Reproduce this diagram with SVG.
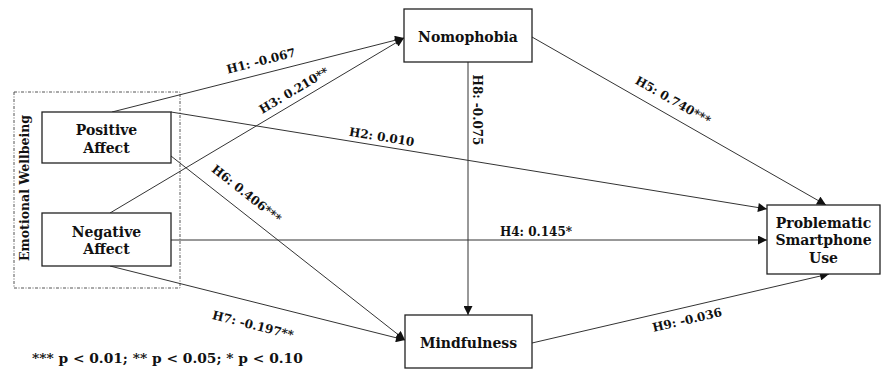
<svg xmlns="http://www.w3.org/2000/svg" width="885" height="369" viewBox="0 0 885 369">
<style>
.box{fill:#fff;stroke:#222;stroke-width:1.3}
.nt{font-family:"DejaVu Serif","Liberation Serif",serif;font-weight:bold;font-size:14px;fill:#111;text-anchor:middle}
.lb{font-family:"DejaVu Serif","Liberation Serif",serif;font-weight:bold;font-size:12px;fill:#111;text-anchor:middle}
.ln{stroke:#333;stroke-width:1;fill:none;marker-end:url(#ah)}
</style>
<defs>
<marker id="ah" viewBox="0 0 10 10" refX="10" refY="5" markerWidth="10" markerHeight="9" markerUnits="userSpaceOnUse" orient="auto">
<path d="M0,0 L10,5 L0,10 z" fill="#111"/>
</marker>
</defs>
<rect width="885" height="369" fill="#fff"/>
<g id="group-emotional-wellbeing">
<rect x="14" y="92" width="166" height="196" fill="none" stroke="#555" stroke-width="1" stroke-dasharray="3,1.5,1,1.5"/>
<text class="nt" transform="translate(29,188) rotate(-90)" style="font-size:12.5px">Emotional Wellbeing</text>
</g>
<g id="connectors">
<line class="ln" x1="112" y1="112" x2="404" y2="38"/>
<line class="ln" x1="110" y1="213" x2="404" y2="38"/>
<line class="ln" x1="171" y1="112" x2="767" y2="209"/>
<line class="ln" x1="171" y1="156" x2="405" y2="340"/>
<line class="ln" x1="110" y1="266" x2="405" y2="340"/>
<line class="ln" x1="171" y1="240" x2="767" y2="240"/>
<line class="ln" x1="532" y1="37" x2="826" y2="205"/>
<line class="ln" x1="468" y1="62" x2="468" y2="315"/>
<line class="ln" x1="532" y1="343" x2="829" y2="274"/>
<text class="lb" transform="translate(262,65) rotate(-14.3)">H1: -0.067</text>
<text class="lb" transform="translate(296,94) rotate(-30.8)">H3: 0.210**</text>
<text class="lb" transform="translate(381,141) rotate(9.2)">H2: 0.010</text>
<text class="lb" transform="translate(244,197) rotate(38.4)">H6: 0.406***</text>
<text class="lb" transform="translate(473,110) rotate(90)">H8: -0.075</text>
<text class="lb" x="536" y="236">H4: 0.145*</text>
<text class="lb" transform="translate(671,104) rotate(29.8)">H5: 0.740***</text>
<text class="lb" transform="translate(252,329) rotate(14.3)">H7: -0.197**</text>
<text class="lb" transform="translate(688,324) rotate(-13.1)">H9: -0.036</text>
</g>
<g id="node-positive-affect">
<rect class="box" x="42" y="112" width="129" height="51"/>
<text class="nt" x="106.5" y="135">Positive</text>
<text class="nt" x="106.5" y="153">Affect</text>
</g>
<g id="node-negative-affect">
<rect class="box" x="42" y="213" width="129" height="53"/>
<text class="nt" x="106.5" y="237">Negative</text>
<text class="nt" x="106.5" y="254">Affect</text>
</g>
<g id="node-nomophobia">
<rect class="box" x="404" y="9" width="128" height="53"/>
<text class="nt" x="468" y="42">Nomophobia</text>
</g>
<g id="node-mindfulness">
<rect class="box" x="405" y="315" width="127" height="53"/>
<text class="nt" x="468.5" y="348">Mindfulness</text>
</g>
<g id="node-psu">
<rect class="box" x="767" y="205" width="113" height="69"/>
<text class="nt" x="823.5" y="228">Problematic</text>
<text class="nt" x="823.5" y="245">Smartphone</text>
<text class="nt" x="823.5" y="263">Use</text>
</g>
<text x="32" y="363" font-family="DejaVu Serif, Liberation Serif, serif" font-weight="bold" font-size="13.8" fill="#111">*** p &lt; 0.01; ** p &lt; 0.05; * p &lt; 0.10</text>
</svg>
